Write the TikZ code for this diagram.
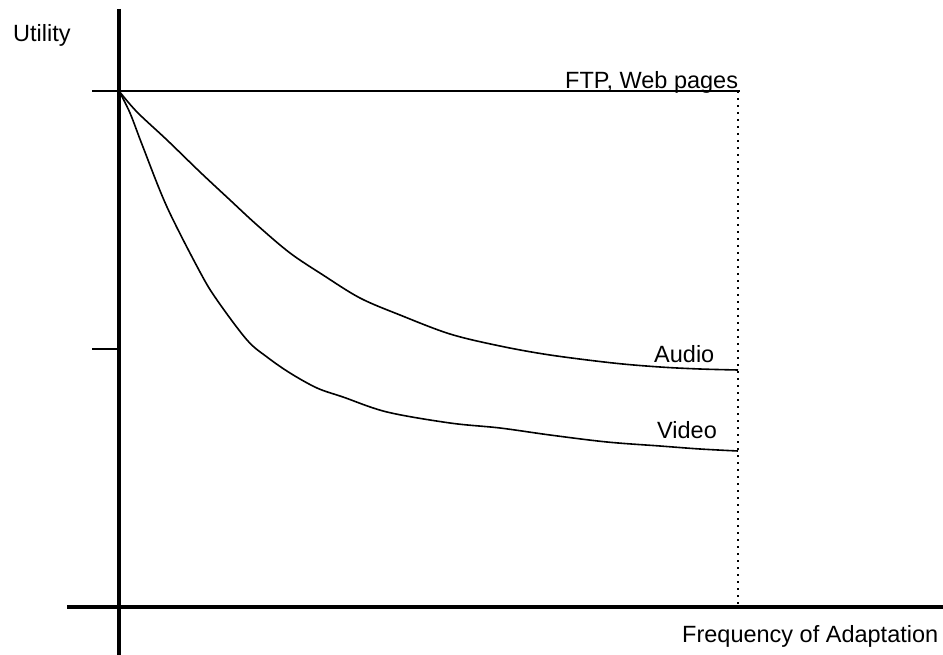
\documentclass[tikz,border=0pt]{standalone}
\usepackage{fontspec}
\setmainfont{Liberation Sans}
\begin{document}
\begin{tikzpicture}[x=1pt,y=-1pt,
  axis/.style={line width=4.8pt},
  thin/.style={line width=1.4pt},
  curve/.style={line width=1.6pt, line join=round},
  label/.style={anchor=base west, inner sep=0pt, font=\fontsize{23.5}{28}\selectfont},
  guide/.style={line width=1.6pt, dash pattern=on 1.6pt off 5.4pt}]
\useasboundingbox (0,0) rectangle (943,655);

% key points
\coordinate (o) at (119,91);
\coordinate (ftpend) at (740,91);
\coordinate (tickL) at (92,349);
\coordinate (tickR) at (119,349);
\coordinate (dtop) at (738,91);
\coordinate (dbot) at (738,607);

% axes
\draw[axis] (119,9) -- (119,655);
\draw[axis] (67,607) -- (943,607);

% reference level and tick
\draw[thin] (92,91) -- (ftpend);
\draw[thin] (tickL) -- (tickR);

% dotted limit
\draw[guide] (dtop) -- (dbot);

% utility curves
\draw[curve] plot[smooth, tension=0.55] coordinates {
  (119,91) (137,112) (167,140) (200,172) (230,200) (257,225) (290,253)
  (323,275) (360,298) (400,315) (450,334) (500,346) (550,355) (613,363)
  (660,367) (700,369) (738,370)};
\draw[curve] plot[smooth, tension=0.55] coordinates {
  (119,91) (130,113) (143,147) (167,207) (200,272) (217,300) (247,340)
  (267,357) (290,373) (317,388) (343,397) (387,412) (450,423) (500,428)
  (550,435) (607,442) (660,446) (700,449) (738,451)};

% labels
\node[label] (utility) at (13,42) {Utility};
\node[label] (ftp) at (565,89) {FTP, Web pages};
\node[label] (audio) at (654,362) {Audio};
\node[label] (video) at (657,438) {Video};
\node[label] (freq) at (682,642) {Frequency of Adaptation};
\end{tikzpicture}
\end{document}
